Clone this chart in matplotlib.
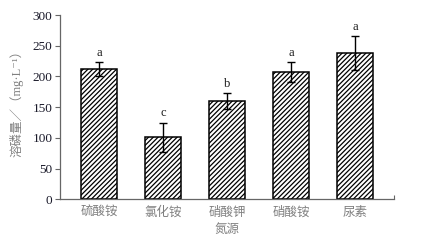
import matplotlib
matplotlib.use("Agg")
import matplotlib.pyplot as plt

# Values
sources = ["硫酸铵", "氯化铵", "硝酸钾", "硝酸铵", "尿素"]
means = [212, 101, 160, 207, 238]
errors = [12, 24, 13, 16, 28]
letters = ["a", "c", "b", "a", "a"]
yticks = [0, 50, 100, 150, 200, 250, 300]

cjk = ["Noto Sans CJK SC", "DejaVu Sans"]
serif = ["Liberation Serif", "DejaVu Serif"]
mixed = ["Liberation Serif", "Noto Sans CJK SC", "DejaVu Sans"]
plt.rcParams["hatch.linewidth"] = 0.9

fig = plt.figure(figsize=(4.24, 2.43), dpi=100)
ax = fig.add_axes([0.1415, 0.18, 0.7875, 0.758])

x = list(range(len(sources)))
ax.bar(x, means, width=0.56, color="white", edgecolor="black",
       linewidth=1.1, hatch="///////", zorder=2)
ax.errorbar(x, means, yerr=errors, fmt="none", ecolor="black",
            elinewidth=1.0, capsize=2.6, capthick=1.0, zorder=3)
for xi, m, e, lab in zip(x, means, errors, letters):
    ax.text(xi, m + e + 5, lab, ha="center", va="bottom",
            fontsize=9, family=serif, color="#1a1a1a")

ax.set_xlim(-0.61, 4.61)
ax.set_ylim(0, 300)
ax.set_yticks(yticks)
ax.set_yticklabels([str(v) for v in yticks], family=serif, fontsize=9.5,
                   color="#1a1a2a")
ax.set_xticks(x)
ax.set_xticklabels(sources, family=cjk, fontsize=9, color="#808080")
ax.tick_params(axis="x", length=0, pad=5)
ax.tick_params(axis="y", direction="out", length=3.5, width=0.8,
               color="#666666", pad=2)
# small end tick on the x-axis line
ax.set_xticks([4.61], minor=True)
ax.tick_params(axis="x", which="minor", direction="in", length=3,
               width=0.8, color="#666666")

for s in ["top", "right"]:
    ax.spines[s].set_visible(False)
for s in ["left", "bottom"]:
    ax.spines[s].set_color("#666666")
    ax.spines[s].set_linewidth(0.9)

ax.set_xlabel("氮源", family=cjk, fontsize=9, color="#808080", labelpad=3)
ax.set_ylabel("溶磷量／（mg·L⁻¹）", family=mixed, fontsize=9,
              color="#808080")
ax.yaxis.set_label_coords(-0.108, 0.535)

fig.savefig("out.png", dpi=100)
